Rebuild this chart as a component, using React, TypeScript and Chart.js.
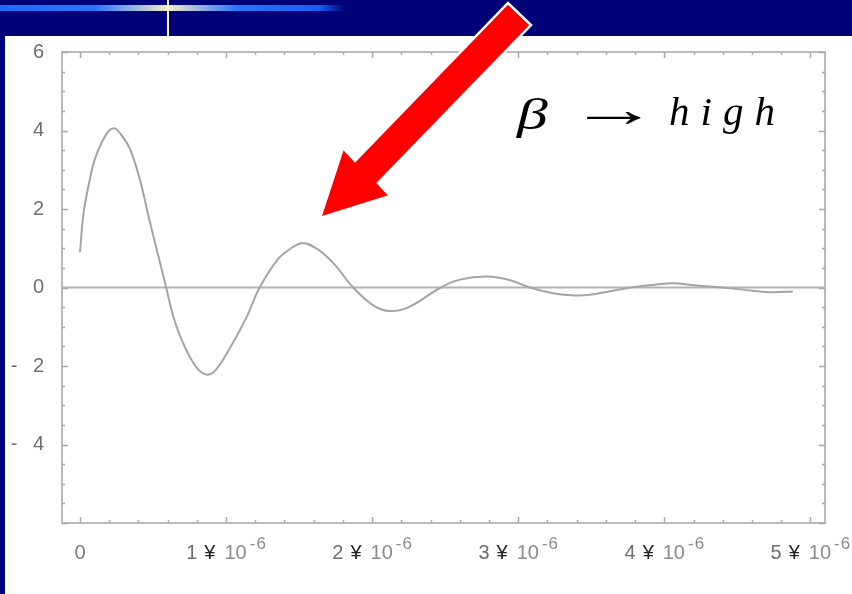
import React, { useEffect, useRef } from 'react';
import { Chart, registerables } from 'chart.js';

Chart.register(...registerables);

// time in microseconds (axis labels show the 10^-6 factor)
const timesUs = [
  0.0, 0.025, 0.07, 0.1, 0.15, 0.2, 0.24, 0.28, 0.34, 0.41, 0.47, 0.53, 0.59, 0.64, 0.71, 0.8, 0.87,
  0.93, 1.03, 1.14, 1.23, 1.35, 1.43, 1.52, 1.62, 1.735, 1.87, 2.01, 2.12, 2.25, 2.47, 2.6, 2.79, 2.95,
  3.08, 3.25, 3.45, 3.62, 3.77, 3.95, 4.06, 4.2, 4.4, 4.6, 4.73, 4.88,
];
const signal = [
  0.9, 1.9, 2.8, 3.25, 3.7, 4.0, 4.05, 3.9, 3.55, 2.75, 1.8, 0.9, 0.0, -0.75, -1.45, -2.05, -2.22,
  -2.1, -1.52, -0.76, 0.0, 0.7, 0.96, 1.13, 0.99, 0.62, 0.0, -0.46, -0.6, -0.5, 0.0, 0.2, 0.28, 0.18,
  0.0, -0.15, -0.2, -0.1, 0.0, 0.08, 0.11, 0.06, 0.0, -0.08, -0.12, -0.1,
];

const xTickValues = [0, 1, 2, 3, 4, 5];
const xTickMantissas = ['0', '1', '2', '3', '4', '5'];
const xTickTimes = '¥';
const xTickBase = '10';
const xTickExponent = ['-', '6'];
const yTickValues = [-6, -4, -2, 0, 2, 4, 6];
const yTickLabels = ['', '- \u20024', '- \u20022', '0', '2', '4', '6'];
const xRange = [-0.123, 5.1];
const yRange = [-6, 6];
const xMinorStep = 0.2;
const yMinorStep = 0.5;

const frameColor = '#bcbcbc';
const labelFamily = '"Liberation Sans", Arial, sans-serif';

const framePlugin = {
  id: 'frame',
  beforeDatasetsDraw(chart: any) {
    const { ctx, chartArea, scales } = chart;
    const y0 = scales.y.getPixelForValue(0);
    ctx.save();
    ctx.strokeStyle = '#b4b4b4';
    ctx.lineWidth = 2;
    ctx.beginPath();
    ctx.moveTo(chartArea.left, y0);
    ctx.lineTo(chartArea.right, y0);
    ctx.stroke();
    ctx.restore();
  },
  afterDatasetsDraw(chart: any) {
    const { ctx, chartArea, scales } = chart;
    const { left, right, top, bottom } = chartArea;
    ctx.save();
    ctx.strokeStyle = frameColor;
    ctx.lineWidth = 2;
    ctx.strokeRect(left, top, right - left, bottom - top);
    ctx.strokeStyle = '#a8a8a8';
    ctx.lineWidth = 1.5;
    ctx.beginPath();
    for (let i = 0; i * xMinorStep <= xRange[1]; i++) {
      const v = i * xMinorStep;
      const major = Math.abs(v - Math.round(v)) < 1e-6;
      const len = major ? 6 : 3;
      const px = Math.round(scales.x.getPixelForValue(v)) + 0.5;
      ctx.moveTo(px, bottom);
      ctx.lineTo(px, bottom - len);
      ctx.moveTo(px, top);
      ctx.lineTo(px, top + len);
    }
    for (let i = Math.ceil(yRange[0] / yMinorStep); i * yMinorStep <= yRange[1]; i++) {
      const v = i * yMinorStep;
      const major = Math.abs(v / 2 - Math.round(v / 2)) < 1e-6;
      const len = major ? 6 : 3;
      const py = Math.round(scales.y.getPixelForValue(v)) + 0.5;
      ctx.moveTo(left, py);
      ctx.lineTo(left + len, py);
      ctx.moveTo(right, py);
      ctx.lineTo(right - len, py);
    }
    ctx.stroke();
    ctx.restore();
  },
  afterDraw(chart: any) {
    // x tick labels with raised exponent, placed at the x scale's tick pixels
    const { ctx, scales } = chart;
    const base = chart.chartArea.bottom + 36;
    const big = `20px ${labelFamily}`;
    const small = `17px ${labelFamily}`;
    ctx.save();
    ctx.textBaseline = 'alphabetic';
    ctx.textAlign = 'left';
    xTickValues.forEach((v, i) => {
      const cx = scales.x.getPixelForValue(v);
      if (v === 0) {
        ctx.font = big;
        ctx.fillStyle = '#7a7a7a';
        const w = ctx.measureText(xTickMantissas[i]).width;
        ctx.fillText(xTickMantissas[i], cx - w / 2, base);
        return;
      }
      const parts = [
        { t: xTickMantissas[i], f: big, c: '#6e6e6e', dy: 0, gap: 7 },
        { t: xTickTimes, f: big, c: '#222222', dy: 0, gap: 9 },
        { t: xTickBase, f: big, c: '#8c8c8c', dy: 0, gap: 3 },
        { t: xTickExponent[0], f: small, c: '#8c8c8c', dy: -10, gap: 1 },
        { t: xTickExponent[1], f: small, c: '#8c8c8c', dy: -10, gap: 0 },
      ];
      let total = 0;
      const widths = parts.map((p) => {
        ctx.font = p.f;
        const w = ctx.measureText(p.t).width;
        total += w + p.gap;
        return w;
      });
      let x = cx - total / 2;
      parts.forEach((p, k) => {
        ctx.font = p.f;
        ctx.fillStyle = p.c;
        ctx.fillText(p.t, x, base + p.dy);
        x += widths[k] + p.gap;
      });
    });
    ctx.restore();
  },
};

export default function App() {
  const canvasRef = useRef<HTMLCanvasElement | null>(null);

  useEffect(() => {
    const canvas = canvasRef.current;
    if (!canvas) return;
    const points = timesUs.map((t, i) => ({ x: t, y: signal[i] }));
    const chart = new Chart(canvas, {
      type: 'scatter',
      data: {
        datasets: [
          {
            data: points,
            showLine: true,
            borderColor: '#a4a4a4',
            borderWidth: 2,
            pointRadius: 0,
            tension: 0.4,
            fill: false,
          } as any,
        ],
      },
      options: {
        animation: false,
        responsive: false,
        events: [],
        layout: { padding: { top: 52, right: 27, left: 0, bottom: 0 } },
        plugins: { legend: { display: false }, tooltip: { enabled: false }, title: { display: false } },
        scales: {
          x: {
            type: 'linear',
            min: xRange[0],
            max: xRange[1],
            grid: { display: false },
            border: { display: false },
            afterBuildTicks: (scale: any) => {
              scale.ticks = xTickValues.map((v) => ({ value: v }));
            },
            afterFit: (scale: any) => {
              scale.height = 71;
              scale.paddingLeft = 0;
              scale.paddingRight = 0;
            },
            ticks: { display: false },
          },
          y: {
            type: 'linear',
            min: yRange[0],
            max: yRange[1],
            grid: { display: false },
            border: { display: false },
            afterBuildTicks: (scale: any) => {
              scale.ticks = yTickValues.map((v) => ({ value: v }));
            },
            afterFit: (scale: any) => {
              scale.width = 62;
            },
            ticks: {
              autoSkip: false,
              padding: 10,
              color: '#6e6e6e',
              font: { family: labelFamily, size: 20 },
              callback: (v: any) => {
                const i = yTickValues.indexOf(Number(v));
                return i >= 0 ? yTickLabels[i] : '';
              },
            },
          },
        },
      },
      plugins: [framePlugin],
    });
    return () => chart.destroy();
  }, []);

  const serif = '"Liberation Serif", "Times New Roman", serif';

  return (
    <div
      style={{
        position: 'fixed',
        left: 0,
        top: 0,
        width: 852,
        height: 594,
        background: '#000078',
        overflow: 'hidden',
      }}
    >
      <div
        style={{
          position: 'absolute',
          left: 0,
          top: 5,
          width: 852,
          height: 6,
          background:
            'linear-gradient(to right, #1e6bff 0px, #2a74ff 95px, #f4efc8 168px, #2a74ff 236px, #1a5cf0 320px, #000078 345px)',
        }}
      />
      <div style={{ position: 'absolute', left: 167, top: 0, width: 2, height: 37, background: '#fff8d0' }} />
      <div style={{ position: 'absolute', left: 5, top: 36, right: 0, bottom: 0, background: '#ffffff' }} />
      <canvas
        ref={canvasRef}
        width={852}
        height={594}
        style={{ position: 'absolute', left: 0, top: 0, width: 852, height: 594 }}
      />
      <svg width={852} height={594} style={{ position: 'absolute', left: 0, top: 0 }}>
        <polygon
          points="320,218 343,148 355,161 508,3 531,25 378,183 390,196"
          fill="#ff0000"
          stroke="#ffffff"
          strokeWidth={2.5}
          strokeLinejoin="miter"
        />
      </svg>
      <span
        style={{
          position: 'absolute',
          left: 517,
          top: 93,
          fontFamily: serif,
          fontStyle: 'italic',
          fontSize: 44,
          lineHeight: '1',
          color: '#000',
          transform: 'scaleX(1.4)',
          transformOrigin: 'left center',
        }}
      >
        β
      </span>
      <span
        style={{
          position: 'absolute',
          left: 569,
          top: 84,
          fontFamily: serif,
          fontSize: 50,
          lineHeight: '1',
          color: '#000',
          transform: 'scaleX(1.8)',
          transformOrigin: 'left center',
        }}
      >
        →
      </span>
      <span
        style={{
          position: 'absolute',
          left: 669,
          top: 91,
          fontFamily: serif,
          fontStyle: 'italic',
          fontSize: 41,
          lineHeight: '1',
          letterSpacing: 11,
          color: '#000',
          whiteSpace: 'nowrap',
        }}
      >
        high
      </span>
    </div>
  );
}
